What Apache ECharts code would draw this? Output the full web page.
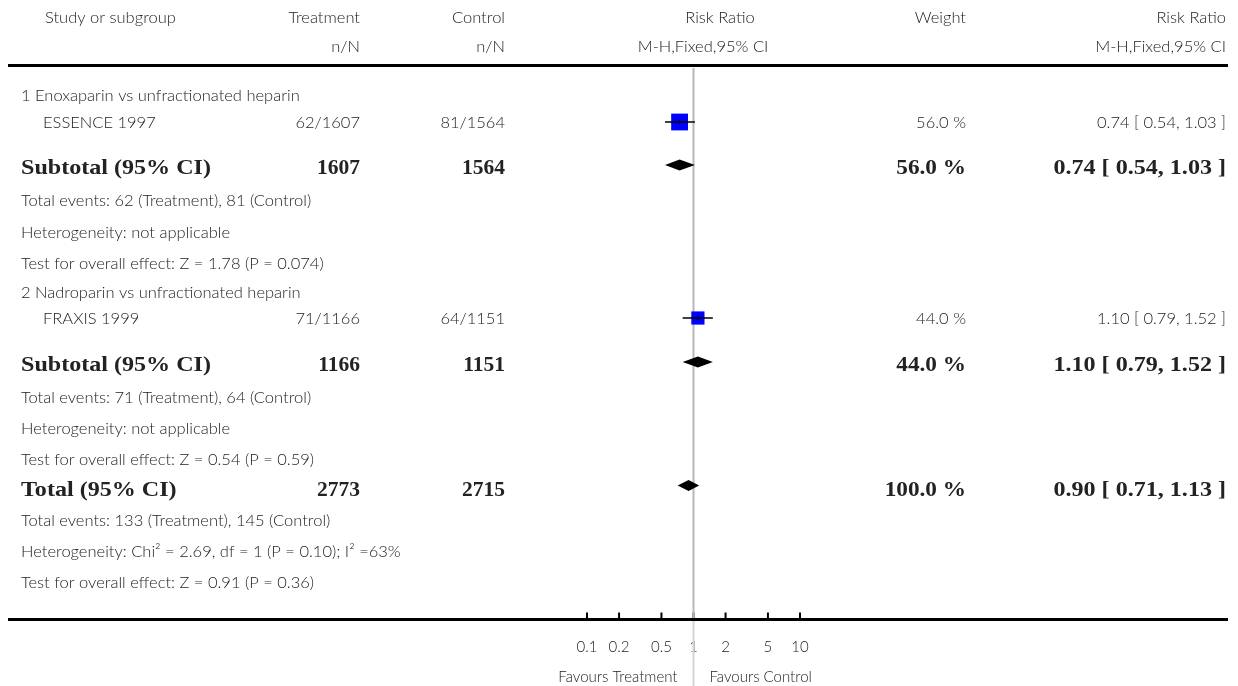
<!DOCTYPE html>
<html>
<head>
<meta charset="utf-8">
<script src="https://cdn.jsdelivr.net/npm/echarts@6/dist/echarts.min.js"></script>
<style>
  html, body { margin: 0; padding: 0; background: #ffffff; }
  #chart { width: 1238px; height: 686px; }
</style>
</head>
<body>
<div id="chart"></div>
<script>
// ---- Column headers ----
const headerTop = ['Study or subgroup', 'Treatment', 'Control', 'Risk Ratio', 'Weight', 'Risk Ratio'];
const headerSub = ['', 'n/N', 'n/N', 'M-H,Fixed,95% CI', '', 'M-H,Fixed,95% CI'];

// ---- Subgroups and trials ----
const subgroupNames = ['1 Enoxaparin vs unfractionated heparin', '2 Nadroparin vs unfractionated heparin'];
const studyNames = ['ESSENCE 1997', 'FRAXIS 1999'];
const treatEvents = [62, 71];
const treatTotal = [1607, 1166];
const ctrlEvents = [81, 64];
const ctrlTotal = [1564, 1151];
const studyRR = [0.74, 1.10];
const studyLow = [0.54, 0.79];
const studyHigh = [1.03, 1.52];
const studyWeight = [56.0, 44.0];

// ---- Subgroup pooled estimates ----
const subRR = [0.74, 1.10];
const subLow = [0.54, 0.79];
const subHigh = [1.03, 1.52];
const subWeight = [56.0, 44.0];
const subHeterogeneity = ['Heterogeneity: not applicable', 'Heterogeneity: not applicable'];
const subTest = ['Test for overall effect: Z = 1.78 (P = 0.074)', 'Test for overall effect: Z = 0.54 (P = 0.59)'];

// ---- Overall pooled estimate ----
const totalN = [2773, 2715];
const totalEvents = [133, 145];
const totalRR = [0.90];
const totalLow = [0.71];
const totalHigh = [1.13];
const totalWeight = [100.0];
const totalHeterogeneity = 'Heterogeneity: Chi\u00B2 = 2.69, df = 1 (P = 0.10); I\u00B2 =63%';
const totalTest = 'Test for overall effect: Z = 0.91 (P = 0.36)';

// ---- Risk ratio axis ----
const tickValues = [0.1, 0.2, 0.5, 1, 2, 5, 10];
const tickLabels = ['0.1', '0.2', '0.5', '1', '2', '5', '10'];
const favourLabels = ['Favours Treatment', 'Favours Control'];

// ---- Layout (pixel rows on the vertical axis, column anchors) ----
const ROW = {
  head1: 18, head2: 47, topRule: 65.5,
  group: [96, 293], study: [123, 319], subtotal: [166, 363],
  events: [201, 398], het: [233, 429], test: [264, 460],
  total: 488, totalEvents: 521, totalHet: 552, totalTest: 583,
  axis: 619.5, tickLabel: 647, favours: 677
};
const COL = {
  left: 21, indent: 43, headLeft: 45,
  treat: 360, ctrl: 505, rrHead: 720, rrSub: 703,
  weight: 966, ci: 1226
};
const FONT = '300 16.5px Lato, "Open Sans", sans-serif';
const FONT_SMALL = '300 15px Lato, "Open Sans", sans-serif';
const FONT_BOLD = 'bold 21.5px "Liberation Serif", "DejaVu Serif", serif';
const BOLD_WIDE = 1.12;   // horizontal stretch for bold captions
const BOLD_SHIFT = 2;     // bold serif sits slightly lower than the light sans rows
const TEXT_COLOR = '#222222';

const fmt2 = v => v.toFixed(2);
const fmtCI = (r, l, h) => fmt2(r) + ' [ ' + fmt2(l) + ', ' + fmt2(h) + ' ]';
const fmtW = w => w.toFixed(1) + ' %';

// ---- Table text rows ----
const textRows = [];
function addText(t, x, y, align, font, sx) {
  textRows.push({ t, x, y, align, font: font || FONT, sx: sx || 1 });
}
function addBold(t, x, y, align, sx) {
  addText(t, x, y + BOLD_SHIFT, align, FONT_BOLD, sx);
}

addText(headerTop[0], COL.headLeft, ROW.head1, 'left');
addText(headerTop[1], COL.treat, ROW.head1, 'right');
addText(headerTop[2], COL.ctrl, ROW.head1, 'right');
addText(headerTop[3], COL.rrHead, ROW.head1, 'center');
addText(headerTop[4], COL.weight, ROW.head1, 'right');
addText(headerTop[5], COL.ci, ROW.head1, 'right');
addText(headerSub[1], COL.treat, ROW.head2, 'right');
addText(headerSub[2], COL.ctrl, ROW.head2, 'right');
addText(headerSub[3], COL.rrSub, ROW.head2, 'center');
addText(headerSub[5], COL.ci, ROW.head2, 'right');

for (let i = 0; i < subgroupNames.length; i++) {
  addText(subgroupNames[i], COL.left, ROW.group[i], 'left');
  addText(studyNames[i], COL.indent, ROW.study[i], 'left');
  addText(treatEvents[i] + '/' + treatTotal[i], COL.treat, ROW.study[i], 'right');
  addText(ctrlEvents[i] + '/' + ctrlTotal[i], COL.ctrl, ROW.study[i], 'right');
  addText(fmtW(studyWeight[i]), COL.weight, ROW.study[i], 'right');
  addText(fmtCI(studyRR[i], studyLow[i], studyHigh[i]), COL.ci, ROW.study[i], 'right');

  addBold('Subtotal (95% CI)', COL.left, ROW.subtotal[i], 'left', BOLD_WIDE);
  addBold(String(treatTotal[i]), COL.treat, ROW.subtotal[i], 'right');
  addBold(String(ctrlTotal[i]), COL.ctrl, ROW.subtotal[i], 'right');
  addBold(fmtW(subWeight[i]), COL.weight, ROW.subtotal[i], 'right', 1.08);
  addBold(fmtCI(subRR[i], subLow[i], subHigh[i]), COL.ci, ROW.subtotal[i], 'right', BOLD_WIDE);

  addText('Total events: ' + treatEvents[i] + ' (Treatment), ' + ctrlEvents[i] + ' (Control)', COL.left, ROW.events[i], 'left');
  addText(subHeterogeneity[i], COL.left, ROW.het[i], 'left');
  addText(subTest[i], COL.left, ROW.test[i], 'left');
}

addBold('Total (95% CI)', COL.left, ROW.total, 'left', BOLD_WIDE);
addBold(String(totalN[0]), COL.treat, ROW.total, 'right');
addBold(String(totalN[1]), COL.ctrl, ROW.total, 'right');
addBold(fmtW(totalWeight[0]), COL.weight, ROW.total, 'right', 1.08);
addBold(fmtCI(totalRR[0], totalLow[0], totalHigh[0]), COL.ci, ROW.total, 'right', BOLD_WIDE);
addText('Total events: ' + totalEvents[0] + ' (Treatment), ' + totalEvents[1] + ' (Control)', COL.left, ROW.totalEvents, 'left');
addText(totalHeterogeneity, COL.left, ROW.totalHet, 'left');
addText(totalTest, COL.left, ROW.totalTest, 'left');

// ---- Forest plot marks ----
const studyData = studyRR.map((r, i) => [r, ROW.study[i] - 1, studyLow[i], studyHigh[i], studyWeight[i]]);
const diamondData = subRR.map((r, i) => [r, ROW.subtotal[i] - 1, subLow[i], subHigh[i]])
  .concat([[totalRR[0], ROW.total - 2.5, totalLow[0], totalHigh[0]]]);
const tickData = tickValues.map(v => [v, ROW.axis]);

// text element anchored at (x, y); sx stretches it horizontally about the anchor
function textEl(t, x, y, align, font, sx) {
  return {
    type: 'text',
    x: x, y: y,
    scaleX: sx || 1,
    style: {
      text: t, x: 0, y: 0, font: font, fill: TEXT_COLOR,
      align: align, textAlign: align,
      verticalAlign: 'middle', textVerticalAlign: 'middle'
    }
  };
}

const chart = echarts.init(document.getElementById('chart'), null, { renderer: 'canvas' });

chart.setOption({
  animation: false,
  backgroundColor: '#ffffff',
  grid: { left: 480.5, right: 331.5, top: 0, bottom: 0, containLabel: false },
  xAxis: { type: 'log', logBase: 10, min: 0.01, max: 100, show: false },
  yAxis: { type: 'value', min: 0, max: 686, inverse: true, show: false },
  graphic: [
    { type: 'line', shape: { x1: 8, y1: ROW.topRule, x2: 1228, y2: ROW.topRule }, style: { stroke: '#000', lineWidth: 3 }, z: 10 },
    { type: 'line', shape: { x1: 8, y1: ROW.axis, x2: 1228, y2: ROW.axis }, style: { stroke: '#000', lineWidth: 3 }, z: 10 }
  ],
  series: [
    {
      // table text
      type: 'custom', coordinateSystem: 'cartesian2d', silent: true, z: 2,
      data: textRows.map(r => [1, r.y]),
      renderItem: function (params, api) {
        const r = textRows[params.dataIndex];
        const y = api.coord([1, r.y])[1];
        return textEl(r.t, r.x, y, r.align, r.font, r.sx);
      }
    },
    {
      // axis ticks and labels
      type: 'custom', coordinateSystem: 'cartesian2d', silent: true, z: 3,
      data: tickData,
      renderItem: function (params, api) {
        const p = api.coord([api.value(0), api.value(1)]);
        const ly = api.coord([1, ROW.tickLabel])[1];
        return {
          type: 'group',
          children: [
            { type: 'line', shape: { x1: p[0], y1: p[1] - 7, x2: p[0], y2: p[1] }, style: { stroke: '#000', lineWidth: 2 } },
            textEl(tickLabels[params.dataIndex], p[0], ly, 'center', FONT_SMALL)
          ]
        };
      }
    },
    {
      // line of no effect and the favours captions
      type: 'custom', coordinateSystem: 'cartesian2d', silent: true, z: 4,
      data: [[1, ROW.axis]],
      renderItem: function (params, api) {
        const p = api.coord([api.value(0), api.value(1)]);
        const top = api.coord([1, ROW.topRule + 2.5])[1];
        const fy = api.coord([1, ROW.favours])[1];
        return {
          type: 'group',
          children: [
            { type: 'line', shape: { x1: p[0], y1: top, x2: p[0], y2: p[1] }, style: { stroke: '#b8b8b8', lineWidth: 2 } },
            { type: 'line', shape: { x1: p[0], y1: p[1] + 1.5, x2: p[0], y2: 686 }, style: { stroke: '#d4d4d4', lineWidth: 2 } },
            textEl(favourLabels[0], p[0] - 16, fy, 'right', FONT_SMALL),
            textEl(favourLabels[1], p[0] + 16, fy, 'left', FONT_SMALL)
          ]
        };
      }
    },
    {
      // study squares with confidence intervals
      type: 'custom', coordinateSystem: 'cartesian2d', silent: true, z: 5,
      data: studyData,
      renderItem: function (params, api) {
        const y = api.value(1);
        const c = api.coord([api.value(0), y]);
        const lo = api.coord([api.value(2), y]);
        const hi = api.coord([api.value(3), y]);
        const side = api.value(4) * 0.3;
        return {
          type: 'group',
          children: [
            { type: 'rect', shape: { x: c[0] - side / 2, y: c[1] - side / 2, width: side, height: side }, style: { fill: '#0000ff' } },
            { type: 'line', shape: { x1: lo[0], y1: c[1], x2: hi[0], y2: c[1] }, style: { stroke: '#000', lineWidth: 1.5 } },
            { type: 'line', shape: { x1: c[0], y1: c[1] - 2.5, x2: c[0], y2: c[1] + 2.5 }, style: { stroke: '#000', lineWidth: 1 } }
          ]
        };
      }
    },
    {
      // pooled diamonds
      type: 'custom', coordinateSystem: 'cartesian2d', silent: true, z: 5,
      data: diamondData,
      renderItem: function (params, api) {
        const y = api.value(1);
        const c = api.coord([api.value(0), y]);
        const lo = api.coord([api.value(2), y]);
        const hi = api.coord([api.value(3), y]);
        const h = 5.5;
        return {
          type: 'polygon',
          shape: { points: [[lo[0], c[1]], [c[0], c[1] - h], [hi[0], c[1]], [c[0], c[1] + h]] },
          style: { fill: '#000' }
        };
      }
    }
  ]
});
</script>
</body>
</html>
